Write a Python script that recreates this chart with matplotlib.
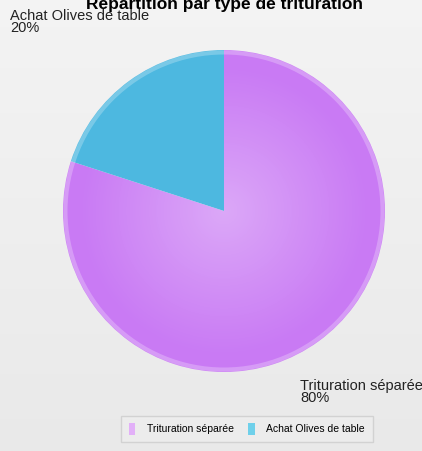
import numpy as np
import matplotlib.pyplot as plt
from matplotlib.patches import Rectangle

plt.rcParams['font.family'] = ['Liberation Sans', 'DejaVu Sans']

title = "Répartition par type de trituration"
labels = ["Trituration séparée", "Achat Olives de table"]
values = [80, 20]
colors = ["#c97af4", "#4db8e0"]

fig = plt.figure(figsize=(4.22, 4.51), dpi=100)
fig.patch.set_facecolor("#f1f1f1")

# background: light vertical gradient
bg = fig.add_axes([0, 0, 1, 1], zorder=-10)
g = np.linspace(0.955, 0.915, 100).reshape(-1, 1)
bg.imshow(np.dstack([g, g, g]), aspect="auto", extent=[0, 1, 0, 1])
bg.axis("off")

# pie area (figure pixel coords: center ~224,211 r ~161)
W, H = 422.0, 451.0
cx, cy, r = 224, 211, 161
ax = fig.add_axes([(cx - r) / W, 1 - (cy + r) / H, 2 * r / W, 2 * r / H])
ax.set_facecolor("none")
wedges, _ = ax.pie(values, colors=colors, startangle=90, counterclock=False,
                   radius=1.0, wedgeprops=dict(linewidth=0))
# soft radial highlight
yy, xx = np.mgrid[-1:1:300j, -1:1:300j]
rr = np.sqrt(xx ** 2 + yy ** 2)
alpha = np.clip(0.35 * (1 - rr / 0.9), 0, 0.35)
img = np.zeros((300, 300, 4))
img[..., :3] = 1.0
img[..., 3] = alpha
im = ax.imshow(img, extent=[-1, 1, -1, 1], zorder=3)
im.set_clip_path(wedges[0])
ring = plt.Circle((0, 0), 0.985, fill=False, lw=3, ec="white", alpha=0.25, zorder=4)
ax.add_patch(ring)
ax.set_xlim(-1, 1)
ax.set_ylim(-1, 1)
ax.set_aspect("equal")
ax.axis("off")

fig.text(cx / W, 1 - 4 / H, title, ha="center", va="center",
         fontsize=12.5, fontweight="bold", color="black")

pct = [f"{v}%" for v in values]
fig.text(10 / W, 1 - 22 / H, labels[1] + "\n" + pct[1], ha="left", va="center",
         fontsize=10.5, color="#222222", linespacing=0.88)
fig.text(300 / W, 1 - 392 / H, labels[0] + "\n" + pct[0], ha="left", va="center",
         fontsize=10.5, color="#222222", linespacing=0.88)

# legend
handles = [Rectangle((0, 0), 1, 1, fc=c, ec="none") for c in ["#e2b0f8", "#6fd0ea"]]
leg = fig.legend(handles, labels, loc="center", bbox_to_anchor=(247 / W, 1 - 429 / H),
                 ncol=2, fontsize=7.5, frameon=True, handlelength=0.6, handleheight=1.3,
                 columnspacing=1.4, handletextpad=1.1, borderpad=0.45)
leg.get_frame().set_facecolor("#eeeeee")
leg.get_frame().set_edgecolor("#cccccc")
leg.get_frame().set_linewidth(1)
leg.get_frame().set_boxstyle("square")

fig.savefig("out.png", dpi=100, facecolor=fig.get_facecolor())
